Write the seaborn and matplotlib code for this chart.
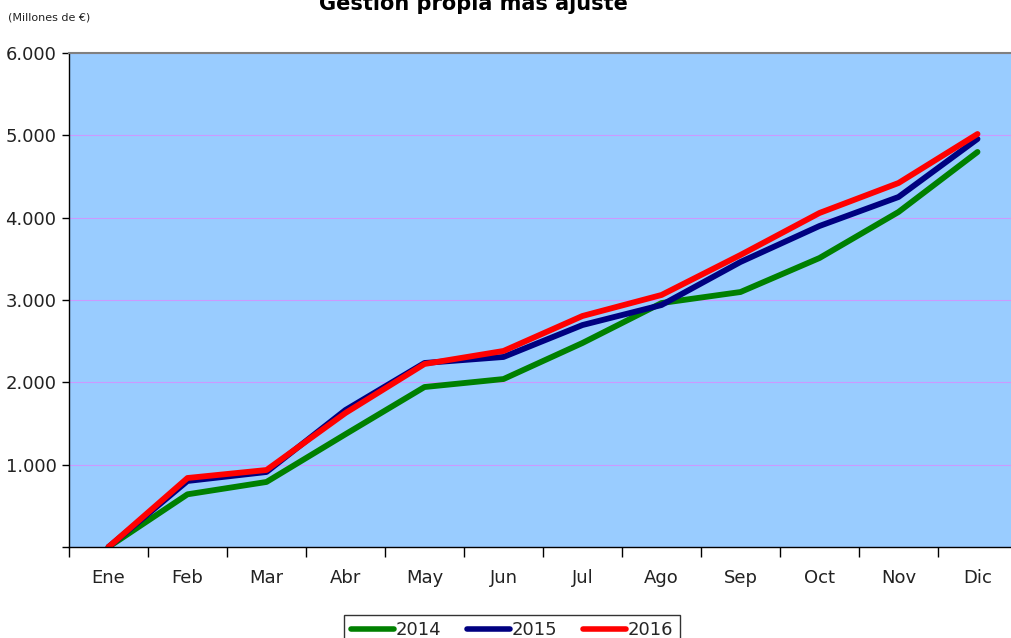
import matplotlib
matplotlib.use("Agg")
import matplotlib.pyplot as plt
import matplotlib.ticker as mticker
import seaborn as sns
import pandas as pd
import numpy as np

months = ["Ene", "Feb", "Mar", "Abr", "May", "Jun", "Jul", "Ago", "Sep", "Oct", "Nov", "Dic"]
s2014 = [0, 640, 790, 1370, 1943, 2040, 2478, 2963, 3097, 3510, 4069, 4798]
s2015 = [0, 802, 911, 1664, 2235, 2308, 2696, 2939, 3462, 3899, 4251, 4956]
s2016 = [0, 838, 935, 1628, 2223, 2381, 2806, 3061, 3547, 4057, 4421, 5016]
years = ["2014", "2015", "2016"]
colors = ["#008000", "#000080", "#ff0000"]

rows = []
for y, vals in zip(years, [s2014, s2015, s2016]):
    for i, (m, v) in enumerate(zip(months, vals)):
        rows.append({"mes": i, "valor": v, "serie": y})
df = pd.DataFrame(rows)

sns.set_theme(style="white")
plt.rcParams['font.family'] = ['DejaVu Sans']

fig = plt.figure(figsize=(10.11, 6.38), dpi=100)
ax = fig.add_axes([69/1011, 1 - 547/638, (1017-69)/1011, (547-53)/638])
ax.set_facecolor("#99ccff")

sns.lineplot(data=df, x="mes", y="valor", hue="serie", palette=colors,
             linewidth=4.2, ax=ax, legend=True)
for ln in ax.lines:
    ln.set_solid_capstyle("round")
    ln.set_solid_joinstyle("round")

ax.set_xlim(-0.5, 11.5)
ax.set_ylim(0, 6000)
ax.set_xticks(range(12))
ax.set_xticklabels(months)
ax.set_xticks(np.arange(-0.5, 12, 1), minor=True)
ax.tick_params(axis="x", which="major", bottom=True, length=0, pad=16,
               labelsize=13, labelcolor="#222222")
ax.tick_params(axis="x", which="minor", bottom=True, length=7, width=1,
               color="black", direction="out")
ax.set_yticks(range(0, 6001, 1000))
ax.yaxis.set_major_formatter(mticker.FuncFormatter(
    lambda v, p: "" if v == 0 else f"{int(v):,}".replace(",", ".")))
ax.tick_params(axis="y", left=True, length=5, width=1, color="black", direction="out",
               labelsize=13, labelcolor="#222222", pad=4)
ax.grid(axis="y", color="#cc99ff", linewidth=0.8)
ax.set_axisbelow(True)
ax.set_xlabel("")
ax.set_ylabel("")

for s in ["left", "bottom"]:
    ax.spines[s].set_color("black")
    ax.spines[s].set_linewidth(1)
ax.spines["top"].set_color("#808080")
ax.spines["top"].set_linewidth(1.5)
ax.spines["right"].set_visible(False)

handles, labels = ax.get_legend_handles_labels()
leg = ax.legend(handles, labels, loc="upper center", bbox_to_anchor=(512/1011, 1 - 606/638),
                bbox_transform=fig.transFigure, ncol=3, frameon=True, fancybox=False,
                fontsize=13, handlelength=2.4, handletextpad=0.1, columnspacing=1.4,
                borderpad=0.35, edgecolor="black")
leg.get_frame().set_linewidth(1)
for h in leg.get_lines():
    h.set_linewidth(4)
    h.set_solid_capstyle("round")

fig.text(8/1011, 1 - 18/638, "(Millones de €)", fontsize=8, color="#222222",
         ha="left", va="center")
fig.text(473/1011, 1 - 3/638, "Gestión propia más ajuste", fontsize=15,
         fontweight="bold", ha="center", va="center", color="black")

fig.savefig("out.png", dpi=100)
